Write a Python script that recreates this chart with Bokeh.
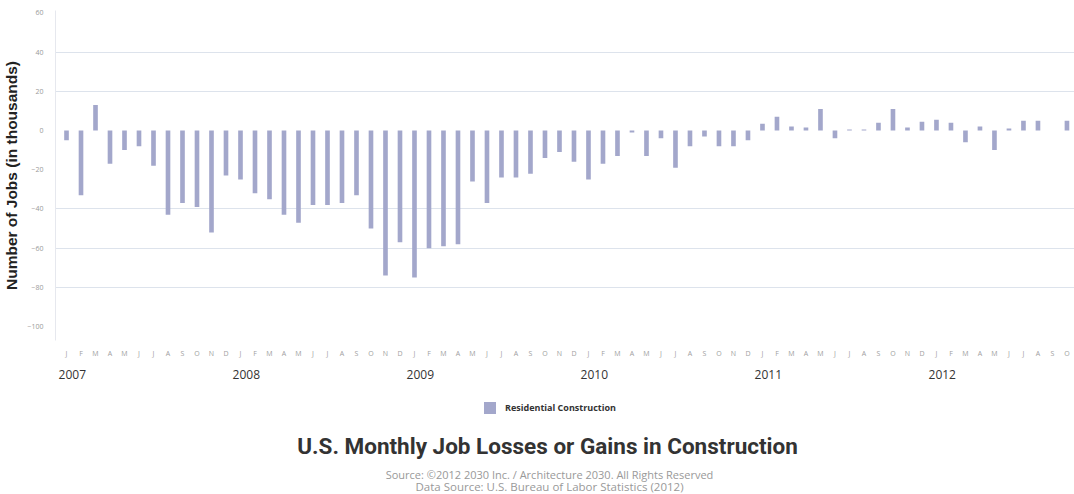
from bokeh.plotting import figure
from bokeh.layouts import column
from bokeh.models import (FixedTicker, LinearAxis, Legend, LegendItem, Label,
                          ColumnDataSource, Range1d, Grid)
from bokeh.embed import file_html
from bokeh.resources import INLINE

# ---------------- data ----------------
years = [2007, 2008, 2009, 2010, 2011, 2012]
month_letters = ["J", "F", "M", "A", "M", "J", "J", "A", "S", "O", "N", "D"]

jobs_2007 = [-5, -33, 13, -17, -10, -8, -18, -43, -37, -39, -52, -23]
jobs_2008 = [-25, -32, -35, -43, -47, -38, -38, -37, -33, -50, -74, -57]
jobs_2009 = [-75, -60, -59, -58, -26, -37, -24, -24, -22, -14, -11, -16]
jobs_2010 = [-25, -17, -13, -1, -13, -4, -19, -8, -3, -8, -8, -5]
jobs_2011 = [3.5, 7, 2, 1.5, 11, -4, 0.5, 0.5, 4, 11, 1.5, 4.5]
jobs_2012 = [5.5, 4, -6, 2, -10, 1, 5, 5, 0, 5]

y_ticks = [60, 40, 20, 0, -20, -40, -60, -80, -100]
grid_ticks = [40, 20, -40, -60, -80]

y_title = "Number of Jobs (in thousands)"
series_name = "Residential Construction"
title_text = "U.S. Monthly Job Losses or Gains in Construction"
source_1 = "Source: \u00a92012 2030 Inc. / Architecture 2030. All Rights Reserved"
source_2 = "Data Source: U.S. Bureau of Labor Statistics (2012)"

# ---------------- build table ----------------
all_values = jobs_2007 + jobs_2008 + jobs_2009 + jobs_2010 + jobs_2011 + jobs_2012
idx = list(range(len(all_values)))
letters = [month_letters[i % 12] for i in idx]
src = ColumnDataSource(dict(x=idx, top=all_values))

BAR = "#a3a7cb"
W = 1074

p = figure(width=W, height=390, output_backend="svg", toolbar_location=None,
           x_range=Range1d(-0.759, 69.52), y_range=Range1d(-107.1, 61.2),
           min_border_left=55, min_border_right=0, min_border_top=10,
           min_border_bottom=50, x_axis_type=None, y_axis_type=None)
p.outline_line_color = None
p.background_fill_color = "white"
p.border_fill_color = "white"

r = p.vbar(x="x", top="top", bottom=0, width=0.32, source=src,
           fill_color=BAR, line_color=None)

# y axis
yax = LinearAxis(ticker=FixedTicker(ticks=y_ticks), axis_label=y_title)
yax.major_label_text_font_size = "7px"
yax.major_label_text_color = "#9a9a9a"
yax.major_label_text_font = "Open Sans"
yax.major_tick_line_color = None
yax.minor_tick_line_color = None
yax.axis_line_color = "#e6e8ee"
yax.major_label_standoff = 6
yax.axis_label_text_font = "Liberation Sans"
yax.axis_label_text_font_style = "bold"
yax.axis_label_text_font_size = "15.5px"
yax.axis_label_text_color = "#222222"
yax.axis_label_standoff = 4
p.add_layout(yax, "left")

# grid
g = Grid(dimension=1, ticker=FixedTicker(ticks=grid_ticks),
         grid_line_color="#dde3ec", grid_line_width=1)
p.add_layout(g)

# month-letter axis
max_ = LinearAxis(ticker=FixedTicker(ticks=idx),
                  major_label_overrides={i: letters[i] for i in idx})
max_.major_label_text_font_size = "7px"
max_.major_label_text_color = "#a0a0a0"
max_.major_label_text_font = "Open Sans"
max_.major_tick_line_color = None
max_.minor_tick_line_color = None
max_.axis_line_color = None
max_.major_label_standoff = 2
p.add_layout(max_, "below")

# year axis
year_pos = [12 * k + 0.4 for k in range(len(years))]
yr = LinearAxis(ticker=FixedTicker(ticks=year_pos),
                major_label_overrides={year_pos[k]: str(years[k]) for k in range(len(years))})
yr.major_label_text_font_size = "12px"
yr.major_label_text_color = "#333333"
yr.major_label_text_font = "Open Sans"
yr.major_tick_line_color = None
yr.minor_tick_line_color = None
yr.axis_line_color = None
yr.major_label_standoff = 3
p.add_layout(yr, "below")

# ---------------- footer figure: legend, title, sources ----------------
H2 = 104
p2 = figure(width=W, height=H2, output_backend="svg", toolbar_location=None,
            x_range=Range1d(0, 1), y_range=Range1d(1000, 1001),
            min_border=0, x_axis_type=None, y_axis_type=None)
p2.outline_line_color = None
p2.grid.visible = False
p2.background_fill_color = "white"
p2.border_fill_color = "white"

# same series, drawn out of this panel's view: it only feeds the legend swatch
swatch = p2.vbar(x="x", top="top", bottom=0, width=0.32, source=src,
                 fill_color=BAR, line_color=None)
leg = Legend(items=[LegendItem(label=series_name, renderers=[swatch])],
             location=(427, 79), orientation="horizontal",
             glyph_width=15, glyph_height=15, padding=0, margin=0,
             label_standoff=8, border_line_color=None,
             background_fill_alpha=0,
             label_text_font_size="9px", label_text_font_style="bold",
             label_text_color="#333333", label_text_font="Open Sans")
p2.add_layout(leg)

p2.add_layout(Label(x=492, y=H2 - 55, x_units="screen", y_units="screen",
                    text=title_text, text_align="center", text_baseline="middle",
                    text_font="Roboto", text_font_style="bold",
                    text_font_size="22.5px", text_color="#333333"))
p2.add_layout(Label(x=494, y=H2 - 84, x_units="screen", y_units="screen",
                    text=source_1, text_align="center", text_baseline="middle",
                    text_font="Open Sans",
                    text_font_size="11px", text_color="#999999"))
p2.add_layout(Label(x=494, y=H2 - 96, x_units="screen", y_units="screen",
                    text=source_2, text_align="center", text_baseline="middle",
                    text_font="Open Sans",
                    text_font_size="11.5px", text_color="#999999"))

layout = column(p, p2, spacing=0)
open("out.html", "w").write(file_html(layout, INLINE))
